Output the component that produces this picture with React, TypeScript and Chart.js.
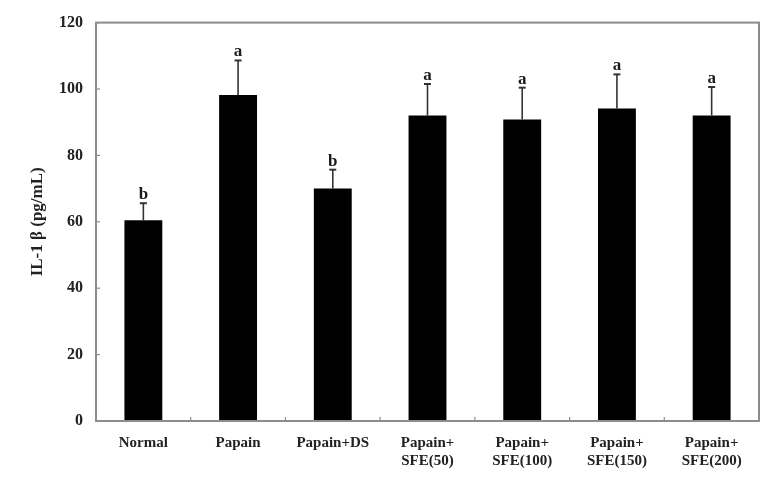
import React, { useEffect, useRef } from "react";
import { Chart, registerables } from "chart.js";

Chart.register(...registerables);

const categories: string[][] = [
  ["Normal"],
  ["Papain"],
  ["Papain+DS"],
  ["Papain+", "SFE(50)"],
  ["Papain+", "SFE(100)"],
  ["Papain+", "SFE(150)"],
  ["Papain+", "SFE(200)"],
];
const means = [60.5, 98.2, 70.0, 92.0, 90.8, 94.1, 92.0];
const errors = [5.1, 10.4, 5.7, 9.5, 9.6, 10.3, 8.6];
const letters = ["b", "a", "b", "a", "a", "a", "a"];
const yMin = 0;
const yMax = 120;
const yStep = 20;
const yTitle = "IL-1 β (pg/mL)";

const FONT = "'Liberation Serif', 'Times New Roman', serif";

const decorPlugin = {
  id: "decor",
  afterDatasetsDraw(chart: any) {
    const { ctx, chartArea } = chart;
    const x = chart.scales.x;
    const y = chart.scales.y;
    ctx.save();
    // error bars
    const meta = chart.getDatasetMeta(0);
    meta.data.forEach((bar: any, i: number) => {
      const cx = bar.x;
      const top = y.getPixelForValue(means[i]);
      const et = y.getPixelForValue(means[i] + errors[i]);
      ctx.strokeStyle = "#333";
      ctx.lineWidth = 1.6;
      ctx.beginPath();
      ctx.moveTo(cx, top);
      ctx.lineTo(cx, et);
      ctx.stroke();
      ctx.lineWidth = 2;
      ctx.beginPath();
      ctx.moveTo(cx - 3.5, et);
      ctx.lineTo(cx + 3.5, et);
      ctx.stroke();
      ctx.fillStyle = "#1a1a1a";
      ctx.font = `bold 17px ${FONT}`;
      ctx.textAlign = "center";
      ctx.textBaseline = "alphabetic";
      ctx.fillText(letters[i], cx, et - 4);
    });
    // frame
    ctx.strokeStyle = "#8c8c8c";
    ctx.lineWidth = 2;
    ctx.strokeRect(chartArea.left, chartArea.top, chartArea.right - chartArea.left, chartArea.bottom - chartArea.top);
    // inward y ticks
    ctx.lineWidth = 1.2;
    for (let v = yMin; v <= yMax; v += yStep) {
      const py = y.getPixelForValue(v);
      ctx.beginPath();
      ctx.moveTo(chartArea.left, py);
      ctx.lineTo(chartArea.left + 4, py);
      ctx.stroke();
    }
    // inward x ticks at category boundaries
    for (let i = 1; i < categories.length; i++) {
      const px = (x.getPixelForValue(i - 1) + x.getPixelForValue(i)) / 2;
      ctx.beginPath();
      ctx.moveTo(px, chartArea.bottom);
      ctx.lineTo(px, chartArea.bottom - 4);
      ctx.stroke();
    }
    ctx.restore();
  },
};

export default function App() {
  const ref = useRef<HTMLCanvasElement | null>(null);
  useEffect(() => {
    if (!ref.current) return;
    const chart = new Chart(ref.current, {
      type: "bar",
      data: {
        labels: categories,
        datasets: [
          {
            data: means,
            backgroundColor: "#000",
            borderWidth: 0,
            categoryPercentage: 1,
            barPercentage: 0.4,
          },
        ],
      },
      options: {
        responsive: false,
        animation: false,
        layout: { padding: { top: 15, right: 22, left: 0, bottom: 0 } },
        plugins: { legend: { display: false }, tooltip: { enabled: false } },
        scales: {
          x: {
            grid: { display: false, drawTicks: false },
            border: { display: false },
            ticks: {
              color: "#222",
              padding: 13,
              font: { family: FONT, size: 15, weight: "bold", lineHeight: 1.2 },
              maxRotation: 0,
              autoSkip: false,
            },
            afterFit(scale: any) {
              scale.height = 59;
            },
          },
          y: {
            min: yMin,
            max: yMax,
            grid: { display: false, drawTicks: false },
            border: { display: false },
            ticks: {
              stepSize: yStep,
              color: "#222",
              padding: 13,
              font: { family: FONT, size: 16, weight: "bold" },
            },
            title: {
              display: true,
              text: yTitle,
              color: "#222",
              font: { family: FONT, size: 17, weight: "bold" },
              padding: { top: 27, bottom: 0 },
            },
            afterFit(scale: any) {
              scale.width = 96;
            },
          },
        },
      },
      plugins: [decorPlugin],
    });
    return () => chart.destroy();
  }, []);
  return (
    <div style={{ position: "fixed", left: 0, top: 0, width: 781, height: 480, background: "#fff" }}>
      <canvas ref={ref} width={781} height={480} />
    </div>
  );
}
